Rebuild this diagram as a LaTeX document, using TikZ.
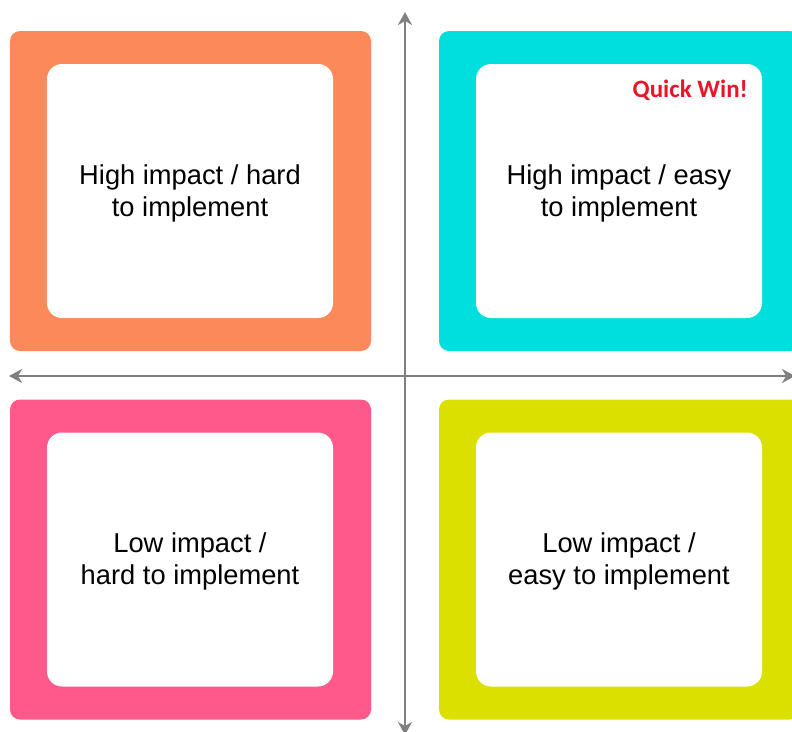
\documentclass[tikz,border=0pt]{standalone}
\usepackage{fontspec}
\setmainfont{Liberation Sans}
\newfontfamily\carlito{Carlito}
\usetikzlibrary{arrows.meta}
\definecolor{qorange}{RGB}{252,137,90}
\definecolor{qcyan}{RGB}{0,222,222}
\definecolor{qpink}{RGB}{255,88,138}
\definecolor{qyellow}{RGB}{220,224,0}
\definecolor{qaxis}{RGB}{128,128,128}
\definecolor{qred}{RGB}{232,22,40}
\tikzset{
  outerbox/.style={rounded corners=10pt, inner sep=0pt, minimum width=361pt, minimum height=320pt},
  innerbox/.style={fill=white, rounded corners=15pt, inner sep=0pt, minimum width=286pt, minimum height=254pt},
  boxtext/.style={align=center, inner sep=0pt, font=\fontsize{27.3}{32}\selectfont},
  axis/.style={draw=qaxis, line width=1.8pt, {Stealth[length=13pt,width=14pt,inset=4pt]}-{Stealth[length=13pt,width=14pt,inset=4pt]}}
}
\begin{document}
\begin{tikzpicture}[x=1pt,y=-1pt]
\useasboundingbox (0,0) rectangle (792,731);
\clip (0,0) rectangle (792,731);
\node[outerbox, fill=qorange] (ob) at (190.5,191) {};
\node[outerbox, fill=qcyan] (cb) at (619.5,191) {};
\node[outerbox, fill=qpink] (pb) at (190.5,559.5) {};
\node[outerbox, fill=qyellow] (yb) at (619.5,559.5) {};
\node[innerbox] (oi) at (190,191) {};
\node[innerbox] (ci) at (619,191) {};
\node[innerbox] (pi) at (190,559.5) {};
\node[innerbox] (yi) at (619,559.5) {};
\node[boxtext] (ot) at (190,193) {High impact / hard\\to implement};
\node[boxtext] (ct) at (619,193) {High impact / easy\\to implement};
\node[boxtext] (pt) at (190,561.5) {Low impact /\\hard to implement};
\node[boxtext] (yt) at (619,561.5) {Low impact /\\easy to implement};
\node[anchor=east, inner sep=0pt, text=qred, font=\carlito\bfseries\fontsize{25}{30}\selectfont] (qw) at (748,90) {Quick Win!};
\coordinate (vt) at (405,12);
\coordinate (vb) at (405,735);
\coordinate (hl) at (9,376);
\coordinate (hr) at (795,376);
\draw[axis] (vt) -- (vb);
\draw[axis] (hl) -- (hr);
\end{tikzpicture}
\end{document}
